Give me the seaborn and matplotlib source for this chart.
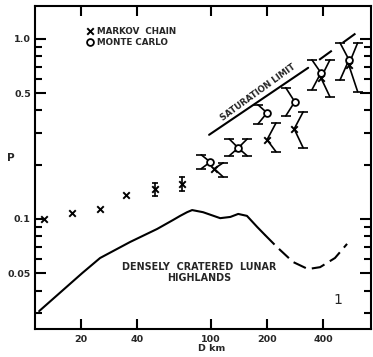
import numpy as np
import pandas as pd
import matplotlib
matplotlib.use("Agg")
import matplotlib.pyplot as plt
import seaborn as sns

# ---------------- data ----------------
markov_d = [12.6, 17.9, 25.3, 34.9, 50, 70, 104, 140, 200, 280, 390, 550]
markov_p = [0.100, 0.108, 0.114, 0.136, 0.147, 0.156, 0.190, 0.248, 0.275, 0.316, 0.607, 0.718]
markov_lo = [np.nan, np.nan, np.nan, np.nan, 0.134, 0.143, 0.171, 0.224, 0.236, 0.248, 0.476, 0.508]
markov_hi = [np.nan, np.nan, np.nan, np.nan, 0.158, 0.171, 0.205, 0.278, 0.341, 0.393, 0.764, 0.95]

mc_d = [99, 140, 200, 282, 390, 552]
mc_p = [0.207, 0.248, 0.388, 0.447, 0.647, 0.764]
mc_lo = [0.190, 0.224, 0.337, 0.373, 0.521, 0.59]
mc_hi = [0.227, 0.278, 0.430, 0.535, 0.764, 0.95]

high_d_solid = [11.9, 20.3, 25.3, 36.7, 51.3, 62.5, 68.2, 74.3, 79.1, 90.6, 112, 127, 140, 156, 177, 195]
high_p_solid = [0.0308, 0.0501, 0.0607, 0.0745, 0.088, 0.0987, 0.104, 0.109, 0.112, 0.109, 0.101, 0.1026, 0.1066, 0.104, 0.0903, 0.0815]
high_d_dash = [195, 226, 276, 332, 386, 464, 539]
high_p_dash = [0.0815, 0.0699, 0.0577, 0.0527, 0.054, 0.0607, 0.0727]

sat_d_solid = [97.6, 333]
sat_p_solid = [0.293, 0.69]
sat_d_dash = [333, 617]
sat_p_dash = [0.69, 1.094]

x_ticks = [20, 40, 100, 200, 400]
x_ticklabels = ["20", "40", "100", "200", "400"]
y_ticks = [0.05, 0.1, 0.5, 1.0]
y_ticklabels = ["0.05", "0.1", "0.5", "1.0"]
y_minor = [0.03, 0.04, 0.06, 0.07, 0.08, 0.09, 0.2, 0.3, 0.4, 0.6, 0.7, 0.8, 0.9]

# ---------------- figure ----------------
sns.set_style("ticks")
plt.rcParams["font.family"] = ["DejaVu Sans"]
plt.rcParams["font.weight"] = "bold"

fig = plt.figure(figsize=(3.73, 3.57), dpi=100)
ax = fig.add_axes([35 / 373, 28 / 357, 336 / 373, 323 / 357])
ax.set_xscale("log")
ax.set_yscale("log")
ax.set_xlim(11.3, 725)
ax.set_ylim(0.0245, 1.52)

lw = 1.5
# lunar highlands curve
sns.lineplot(x=high_d_solid, y=high_p_solid, sort=False, estimator=None, color="black", lw=lw, ax=ax)
sns.lineplot(x=high_d_dash, y=high_p_dash, sort=False, estimator=None, color="black", lw=lw, ax=ax)
ax.lines[-1].set_linestyle((0, (6.5, 3)))

# saturation limit
sns.lineplot(x=sat_d_solid, y=sat_p_solid, sort=False, estimator=None, color="black", lw=lw, ax=ax)
sns.lineplot(x=sat_d_dash, y=sat_p_dash, sort=False, estimator=None, color="black", lw=lw, ax=ax)
ax.lines[-1].set_linestyle((7.5, (7.5, 6.5)))

# error bars
f = 10 ** (9 / 186)
ebw = 1.2


def draw_bar(d, p, lo, hi, side):
    if np.isnan(lo):
        return
    if side == 0:
        ax.plot([d, d], [lo, hi], color="black", lw=ebw, zorder=2)
        ax.plot([d, d], [lo, hi], ls="none", marker="_", ms=5, mew=ebw, color="black", zorder=2)
    else:
        dc = d * f ** side
        ax.plot([dc, d, dc], [hi, p, lo], color="black", lw=ebw, zorder=2)
        ax.plot([dc, dc], [lo, hi], ls="none", marker="_", ms=7, mew=ebw, color="black", zorder=2)


for d, p, lo, hi in zip(markov_d, markov_p, markov_lo, markov_hi):
    draw_bar(d, p, lo, hi, 0 if d < 90 else 1)
for d, p, lo, hi in zip(mc_d, mc_p, mc_lo, mc_hi):
    draw_bar(d, p, lo, hi, -1)

sns.scatterplot(x=markov_d, y=markov_p, marker="x", s=22, color="black", linewidth=1.4,
                ax=ax, zorder=4, label="MARKOV  CHAIN")
sns.scatterplot(x=mc_d, y=mc_p, marker="o", s=24, facecolor="white", edgecolor="black",
                linewidth=1.3, ax=ax, zorder=5, label="MONTE CARLO")

leg = ax.legend(loc="upper left", bbox_to_anchor=(0.143, 0.95), frameon=False,
                handlelength=0.6, handletextpad=0.5, labelspacing=0.25, borderpad=0,
                prop={"size": 6.3, "weight": "bold"})

# annotations
ax.text(180, 0.505, "SATURATION LIMIT", rotation=36, ha="center", va="center",
        fontsize=6.2, fontweight="bold")
ax.text(86, 0.0505, "DENSELY  CRATERED  LUNAR\nHIGHLANDS", ha="center", va="center",
        fontsize=6.9, fontweight="bold", linespacing=1.05)
ax.text(0.90, 0.09, "1", transform=ax.transAxes, ha="center", va="center", fontsize=10,
        fontweight="normal")

# axes styling
for s in ax.spines.values():
    s.set_linewidth(1.5)
    s.set_color("black")
ax.set_xticks(x_ticks)
ax.set_xticklabels(x_ticklabels)
ax.xaxis.set_minor_locator(matplotlib.ticker.NullLocator())
ax.set_yticks(y_ticks)
ax.set_yticklabels(y_ticklabels)
ax.set_yticks(y_minor, minor=True)
ax.yaxis.set_minor_formatter(matplotlib.ticker.NullFormatter())
ax.tick_params(axis="both", which="both", direction="in", top=True, right=True,
               labelsize=6.8, color="black", width=1.5)
ax.tick_params(axis="y", which="major", length=8, pad=3)
ax.tick_params(axis="y", which="minor", length=5)
ax.tick_params(axis="x", which="major", length=7, pad=4)
for lab in ax.get_xticklabels() + ax.get_yticklabels():
    lab.set_fontweight("bold")

ax.set_xlabel("D km", fontsize=6.8, fontweight="bold")
ax.xaxis.set_label_coords(0.527, -0.045)
ax.set_ylabel("P", fontsize=7.5, fontweight="bold", rotation=0, ha="center", va="center")
ax.yaxis.set_label_coords(-0.071, 0.53)

fig.savefig("out.png", dpi=100)
